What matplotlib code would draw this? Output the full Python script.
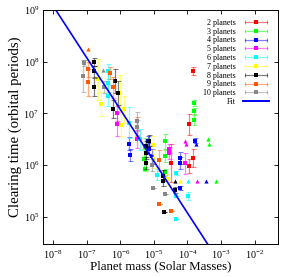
import numpy as np
import matplotlib
matplotlib.use('Agg')
import matplotlib.pyplot as plt
from matplotlib.lines import Line2D
from matplotlib.legend_handler import HandlerLine2D, HandlerTuple
from matplotlib.ticker import FixedLocator, NullLocator

plt.rcParams['font.family'] = ['Liberation Serif', 'DejaVu Serif']
plt.rcParams['mathtext.fontset'] = 'custom'
plt.rcParams['mathtext.rm'] = 'Liberation Serif'
plt.rcParams['mathtext.it'] = 'Liberation Serif:italic'

# mass (solar masses), clearing time (orbits), error factor (time/f .. time*f)
m2 = [1.48e-4, 1.15e-4, 1.15e-4, 1.45e-4, 3.2e-5]
t2 = [6.6e7, 6.2e6, 9.7e5, 1.4e6, 1.1e6]
f2 = [1.2, 1.6, 1.35, 1.5, 2.3]

m3 = [1.62e-4, 1.62e-4, 1.62e-4, 2.1e-5, 2.1e-5, 2.1e-5, 5.6e-6, 5.2e-6, 5.3e-6]
t3 = [1.6e7, 1.1e7, 7.4e6, 2.9e6, 1.5e6, 7.4e5, 2.2e6, 1.3e6, 8.5e5]
f3 = [1.15, 1.15, 1.25, 1.4, 1.3, 1.15, 1.5, 1.6, 1.1]
m3_up = [4.1e-4, 4.4e-4, 7.2e-4]
t3_up = [3.2e6, 2.6e6, 4.9e5]

m4 = [1.8e-6, 1.9e-6, 6.6e-6, 7.4e-6, 8.9e-6, 6.2e-5, 6.2e-5, 6.2e-5, 1.74e-4]
t4 = [2.6e6, 1.6e6, 3.0e6, 2.1e6, 1.5e6, 1.4e6, 1.1e6, 3.6e5, 3.0e6]
f4 = [1.35, 1.3, 1.25, 1.3, 1.4, 1.3, 1.3, 1.1, 1.1]
m4_up = [1.85e-4, 3.5e-4]
t4_up = [2.6e6, 4.9e5]

m5 = [8.1e-7, 8.1e-7, 3.2e-6, 2.9e-5, 2.9e-5, 8.3e-5]
t5 = [6.2e6, 1.0e7, 3.2e6, 1.7e6, 2.1e6, 1.1e6]
f5 = [1.7, 1.4, 1.5, 1.3, 1.2, 1.6]
m5_up = [8.3e-5, 9.2e-5, 1.95e-4]
t5_up = [3.0e6, 2.6e6, 4.9e5]

m6 = [4.3e-7, 4.3e-7, 4.4e-7, 1.8e-6, 4.0e-6, 1.26e-5, 4.7e-5, 4.7e-5, 4.7e-5, 1.05e-4]
t6 = [6.6e7, 3.9e7, 2.2e7, 6.6e6, 3.2e6, 6.6e5, 7.0e5, 2.5e5, 9.0e4, 2.5e5]
f6 = [1.4, 1.5, 1.6, 2.0, 1.6, 1.3, 1.1, 1.0, 1.0, 1.2]
m6_up = [1.05e-4]
t6_up = [4.9e5]

m7 = [2.6e-7, 2.2e-7, 1.0e-6, 1.3e-6, 1.05e-6, 9.6e-6, 9.6e-6, 2.5e-5]
t7 = [1.5e7, 4.6e7, 2.5e7, 1.2e7, 6.0e6, 2.5e6, 1.3e6, 5.3e5]
f7 = [1.7, 2.5, 2.2, 1.8, 1.6, 1.5, 1.5, 1.3]
m7_up = [6.2e-5]
t7_up = [4.9e5]

m8 = [1.62e-7, 1.62e-7, 1.62e-7, 6.9e-7, 6.2e-7, 8.7e-7, 5.9e-6, 5.9e-6, 7.1e-6,
      5.9e-6, 1.9e-5, 1.9e-5, 2.05e-5, 4.4e-5]
t8 = [1.0e8, 6.5e7, 3.3e7, 4.3e7, 1.2e7, 2.5e7, 2.3e6, 1.7e6, 3.0e6,
      1.1e6, 6.3e5, 4.9e5, 1.25e5, 3.3e5]
f8 = [1.2, 1.3, 1.5, 1.7, 1.5, 1.7, 1.3, 1.3, 1.3, 1.3, 1.3, 1.25, 1.0, 1.15]
m8_up = [4.4e-5]
t8_up = [4.9e5]

m9 = [1.12e-7, 1.12e-7, 5.1e-7, 6.0e-7, 3.1e-6, 1.38e-5, 3.2e-5, 1.38e-5]
t9 = [7.2e7, 4.0e7, 6.0e7, 3.2e7, 5.6e6, 1.25e6, 1.3e5, 1.8e5]
f9 = [1.4, 1.8, 1.3, 1.6, 1.5, 1.6, 1.0, 1.0]
m9_up = [1.12e-7]
t9_up = [1.75e8]

m10 = [7.9e-8, 8.3e-8, 3.2e-7, 3.1e-6, 3.2e-6, 8.9e-6, 9.5e-6, 2.1e-5]
t10 = [5.3e7, 9.6e7, 3.2e7, 7.0e6, 5.4e6, 1.0e6, 3.6e5, 2.8e5]
f10 = [2.0, 1.15, 1.3, 1.5, 1.4, 1.3, 1.0, 1.0]
m10_up = [3.0e-7]
t10_up = [7.0e7]

fit_coef = 12.0
fit_slope = -1.0

labels = ['2 planets', '3 planets', '4 planets', '5 planets', '6 planets',
          '7 planets', '8 planets', '9 planets', '10 planets']
colors = ['#ff0000', '#00ff00', '#0000ff', '#ff00ff', '#00ffff',
          '#ffff00', '#000000', '#ff5a00', '#888888']
xticks = [1e-8, 1e-7, 1e-6, 1e-5, 1e-4, 1e-3, 1e-2]
yticks = [1e5, 1e6, 1e7, 1e8, 1e9]

series = [(m2, t2, f2, [], []), (m3, t3, f3, m3_up, t3_up), (m4, t4, f4, m4_up, t4_up),
          (m5, t5, f5, m5_up, t5_up), (m6, t6, f6, m6_up, t6_up), (m7, t7, f7, m7_up, t7_up),
          (m8, t8, f8, m8_up, t8_up), (m9, t9, f9, m9_up, t9_up), (m10, t10, f10, m10_up, t10_up)]

fig = plt.figure(figsize=(2.93, 2.77), dpi=100)
ax = fig.add_axes([43 / 293, 1 - 244 / 277, 235 / 293, 234 / 277])
ax.set_xscale('log')
ax.set_yscale('log')
xlim = (5e-9, 5e-2)
ax.set_xlim(xlim)
ax.set_ylim(3e4, 1e9)

handles = []
hmap = {}
for (m, t, f, mu, tu), lab, c in zip(series, labels, colors):
    m = np.array(m)
    t = np.array(t)
    f = np.array(f)
    ax.errorbar(m, t, yerr=[t - t / f, t * f - t], fmt='none', ecolor=c, alpha=0.5,
                elinewidth=0.9, capsize=1.8, capthick=0.8)
    ax.plot(m, t, 's', color=c, ms=3.0, mew=0)
    if len(mu):
        ax.plot(mu, tu, '^', color=c, ms=3.0, mew=0)
    cap = Line2D([], [], color=c, alpha=0.5, lw=0.9, marker='|', ms=3.5, mew=0.8)
    pt = Line2D([], [], color=c, marker='s', ms=3.0, mew=0, ls='none')
    hmap[cap] = HandlerLine2D(numpoints=2)
    hmap[pt] = HandlerLine2D(numpoints=1)
    handles.append((cap, pt))

xf = np.logspace(np.log10(xlim[0]), np.log10(xlim[1]), 50)
ax.plot(xf, fit_coef * xf ** fit_slope, color='#0000ff', lw=1.2)
fit_h = Line2D([], [], color='#0000ff', lw=1.4)
handles.append(fit_h)
hmap[tuple] = HandlerTuple(ndivide=1)

ax.legend(handles, labels + ['Fit'], handler_map=hmap, loc='upper right', frameon=False,
          markerfirst=False, fontsize=5.8, labelspacing=0.1, handlelength=3.3,
          handletextpad=0.8, borderaxespad=0.5, borderpad=0.6)

ax.xaxis.set_major_locator(FixedLocator(xticks))
ax.yaxis.set_major_locator(FixedLocator(yticks))
ax.xaxis.set_minor_locator(NullLocator())
ax.yaxis.set_minor_locator(NullLocator())
ax.tick_params(which='both', direction='in', top=True, right=True, length=3,
               width=0.6, labelsize=7.2, pad=3)
for s in ax.spines.values():
    s.set_linewidth(0.7)

ax.set_xlabel('Planet mass (Solar Masses)', fontsize=9.3, labelpad=0)
ax.set_ylabel('Clearing time (orbital periods)', fontsize=10.6, labelpad=1)

fig.savefig('out.png', dpi=100)
